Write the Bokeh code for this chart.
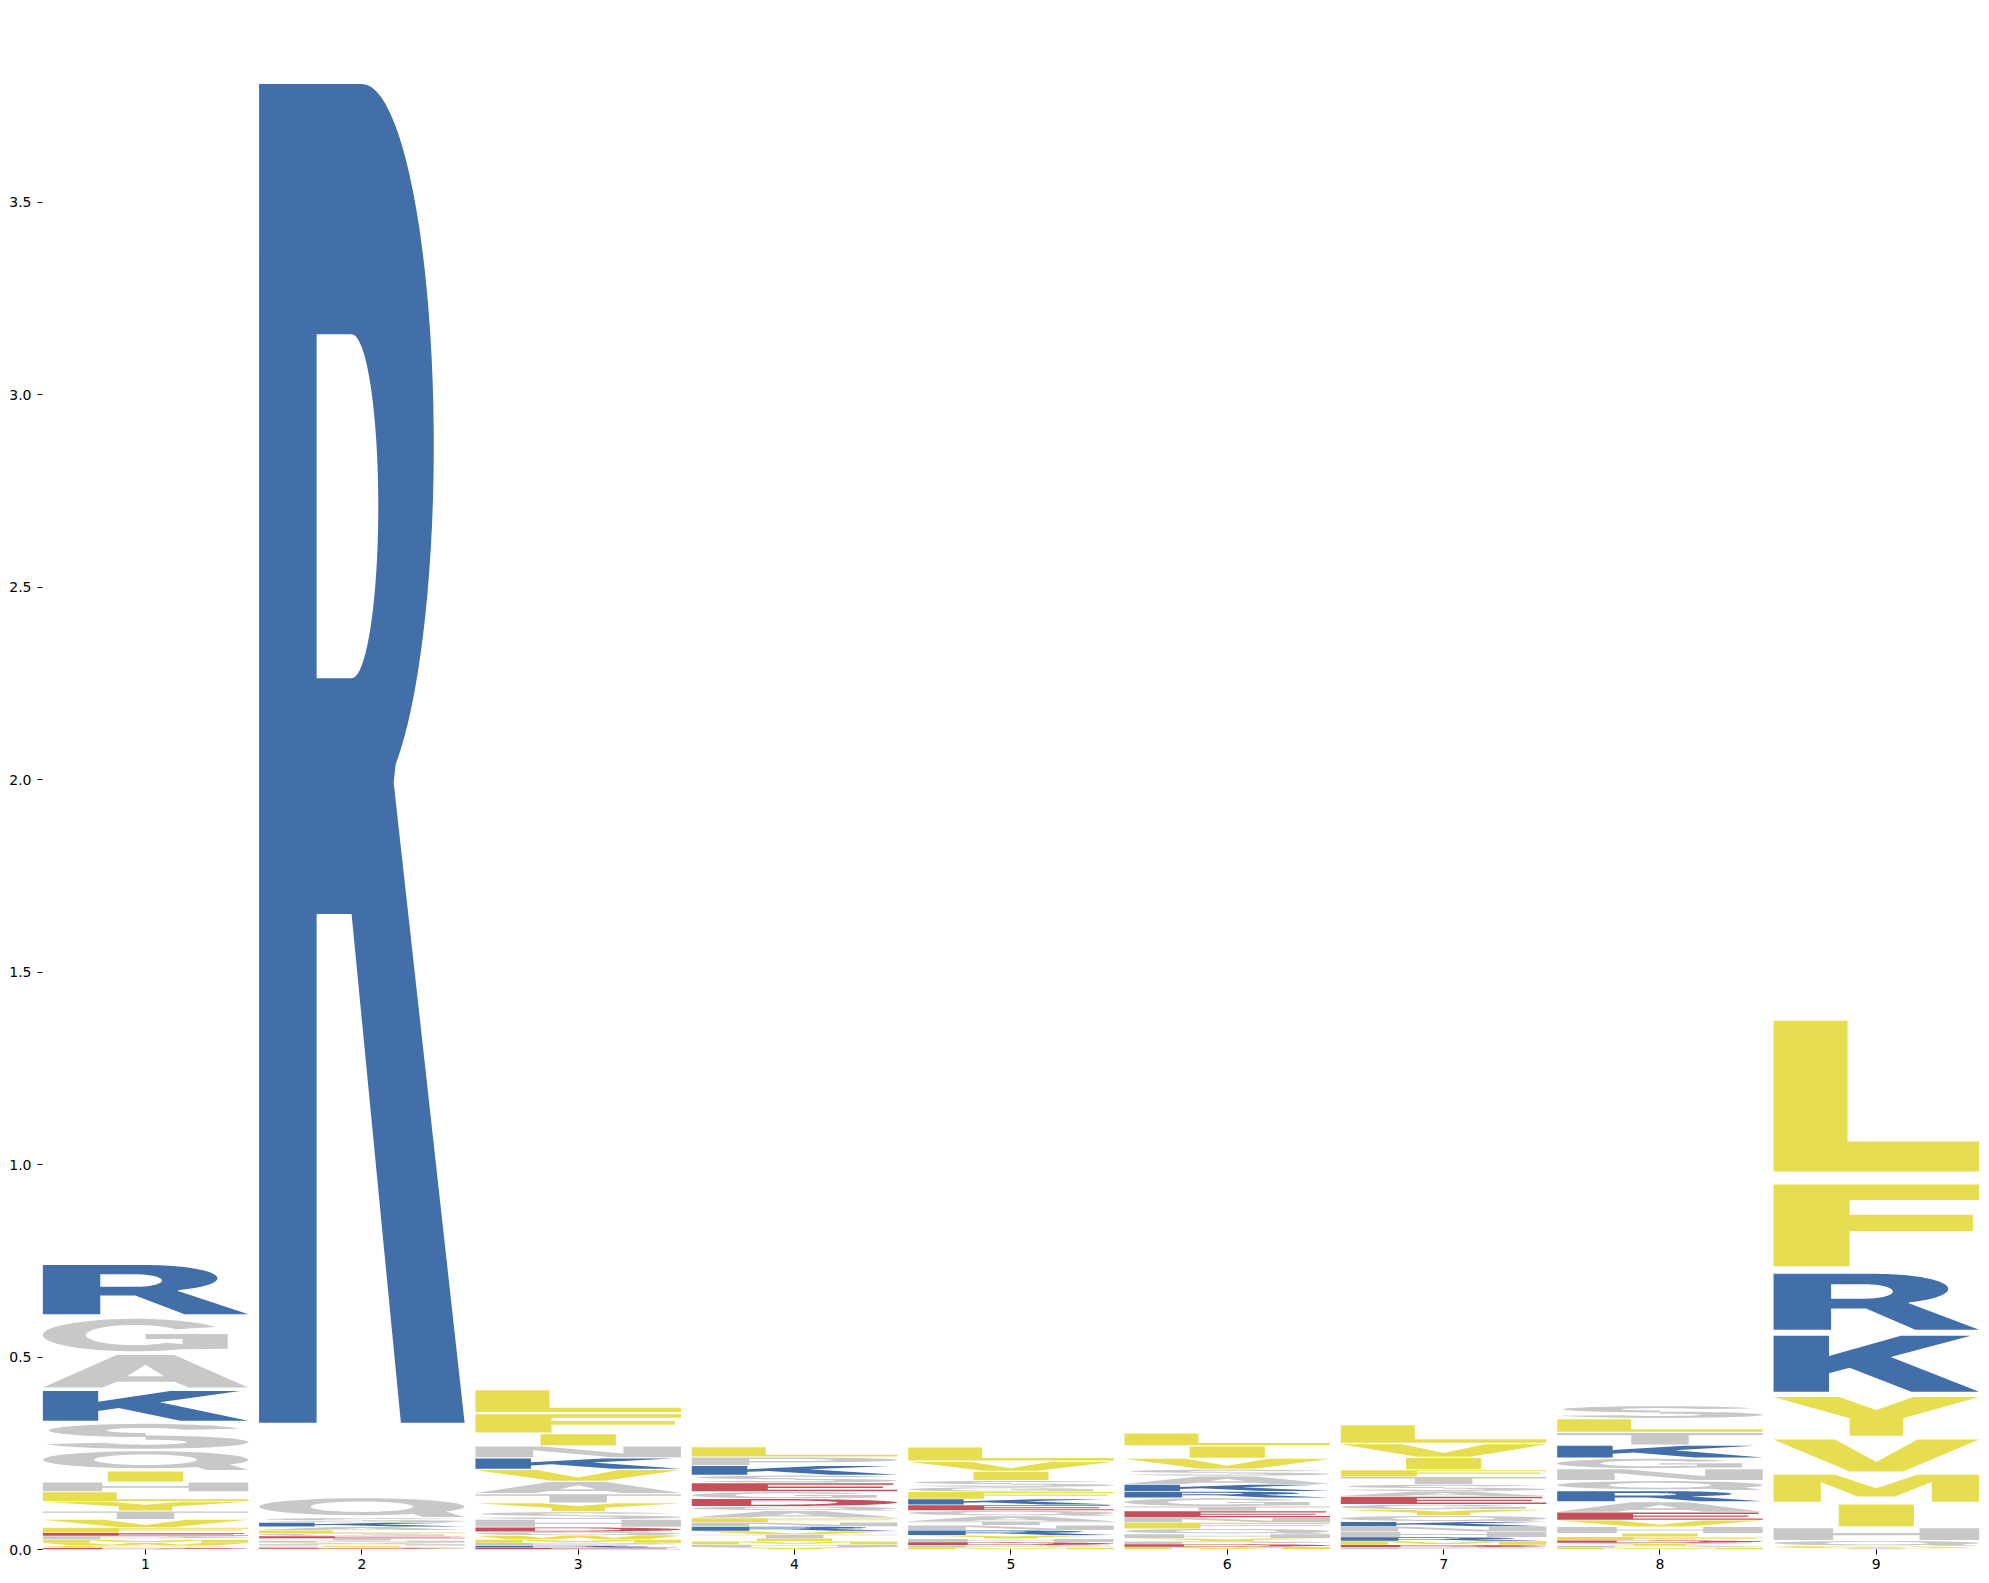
import math
from bokeh.plotting import figure
from bokeh.models import ColumnDataSource, Range1d, FixedTicker, PrintfTickFormatter
from bokeh.embed import file_html
from bokeh.resources import INLINE

# ---------------- data (bottom -> top in each position) ----------------
positions = [1, 2, 3, 4, 5, 6, 7, 8, 9]

letters_1 = ["D", "C", "W", "M", "P", "E", "F", "V", "T", "Y", "L", "H", "I", "Q", "S", "K", "A", "G", "R"]
heights_1 = [0.004, 0.006, 0.007, 0.009, 0.009, 0.008, 0.014, 0.021, 0.022, 0.025, 0.025, 0.025, 0.029, 0.054, 0.072, 0.086, 0.094, 0.094, 0.142]

letters_2 = ["F", "D", "P", "I", "H", "V", "N", "T", "E", "G", "L", "A", "K", "S", "Q", "R"]
heights_2 = [0.002, 0.002, 0.003, 0.003, 0.004, 0.004, 0.005, 0.006, 0.006, 0.007, 0.008, 0.009, 0.011, 0.012, 0.054, 3.864]

letters_3 = ["E", "R", "P", "M", "W", "Q", "D", "H", "S", "Y", "T", "A", "V", "K", "N", "I", "F", "L"]
heights_3 = [0.005, 0.005, 0.007, 0.009, 0.010, 0.010, 0.012, 0.020, 0.020, 0.023, 0.024, 0.032, 0.031, 0.030, 0.031, 0.032, 0.053, 0.063]

letters_4 = ["Y", "H", "M", "I", "T", "V", "R", "N", "F", "A", "Q", "D", "G", "E", "S", "K", "P", "L"]
heights_4 = [0.006, 0.007, 0.008, 0.008, 0.010, 0.009, 0.012, 0.011, 0.011, 0.019, 0.011, 0.020, 0.018, 0.023, 0.020, 0.025, 0.022, 0.027]

letters_5 = ["M", "P", "D", "H", "Y", "R", "N", "T", "A", "Q", "E", "K", "F", "G", "S", "I", "V", "L"]
heights_5 = [0.005, 0.006, 0.008, 0.009, 0.009, 0.013, 0.013, 0.010, 0.014, 0.014, 0.015, 0.015, 0.019, 0.012, 0.017, 0.024, 0.026, 0.038]

letters_6 = ["M", "D", "P", "Y", "H", "Q", "F", "N", "E", "T", "G", "R", "K", "A", "S", "V", "I", "L"]
heights_6 = [0.007, 0.007, 0.007, 0.008, 0.011, 0.014, 0.016, 0.013, 0.017, 0.012, 0.022, 0.017, 0.018, 0.022, 0.017, 0.029, 0.032, 0.034]

letters_7 = ["P", "D", "M", "R", "H", "N", "K", "Q", "Y", "G", "E", "A", "S", "T", "F", "I", "V", "L"]
heights_7 = [0.006, 0.006, 0.010, 0.010, 0.014, 0.014, 0.012, 0.016, 0.016, 0.013, 0.021, 0.013, 0.018, 0.020, 0.018, 0.032, 0.036, 0.050]

letters_8 = ["M", "P", "Y", "D", "F", "I", "H", "V", "E", "A", "R", "Q", "N", "G", "K", "T", "L", "S"]
heights_8 = [0.005, 0.005, 0.007, 0.007, 0.009, 0.009, 0.017, 0.017, 0.021, 0.027, 0.029, 0.026, 0.031, 0.027, 0.034, 0.033, 0.036, 0.034]

letters_9 = ["T", "W", "C", "Q", "H", "I", "M", "V", "Y", "K", "R", "F", "L"]
heights_9 = [0.003, 0.003, 0.003, 0.014, 0.034, 0.063, 0.078, 0.092, 0.112, 0.161, 0.161, 0.236, 0.435]

y_ticks = [0.0, 0.5, 1.0, 1.5, 2.0, 2.5, 3.0, 3.5]

# ---------------- colours ----------------
YELLOW = "#E6DE50"
GREY = "#C8C8C8"
BLUE = "#426EAA"
RED = "#C3505B"
color_of = {}
for ch in "ILVFMYWC":
    color_of[ch] = YELLOW
for ch in "AGSQTNPH":
    color_of[ch] = GREY
for ch in "KR":
    color_of[ch] = BLUE
for ch in "DE":
    color_of[ch] = RED


# ---------------- letter outlines in a unit box ----------------
def arc(cx, cy, rx, ry, a0, a1, n=40):
    pts = []
    for i in range(n + 1):
        a = math.radians(a0 + (a1 - a0) * i / n)
        pts.append((cx + rx * math.cos(a), cy + ry * math.sin(a)))
    return pts


def ring_seg(cx, cy, rxo, ryo, rxi, ryi, a0, a1):
    return arc(cx, cy, rxo, ryo, a0, a1) + arc(cx, cy, rxi, ryi, a1, a0)


T = {}
T["A"] = [[[(0, 0), (0.29, 0), (0.36, 0.18), (0.64, 0.18), (0.71, 0), (1, 0), (0.64, 1), (0.36, 1)],
           [(0.41, 0.35), (0.59, 0.35), (0.5, 0.70)]]]
T["E"] = [[[(0, 0), (1, 0), (1, 0.2), (0.37, 0.2), (0.37, 0.42), (0.93, 0.42), (0.93, 0.6),
            (0.37, 0.6), (0.37, 0.81), (0.98, 0.81), (0.98, 1), (0, 1)]]]
T["F"] = [[[(0, 0), (0.37, 0), (0.37, 0.43), (0.97, 0.43), (0.97, 0.63), (0.37, 0.63),
            (0.37, 0.81), (1, 0.81), (1, 1), (0, 1)]]]
T["L"] = [[[(0, 0), (1, 0), (1, 0.2), (0.36, 0.2), (0.36, 1), (0, 1)]]]
T["I"] = [[[(0, 0), (1, 0), (1, 1), (0, 1)]]]
T["T"] = [[[(0.36, 0), (0.64, 0), (0.64, 0.81), (1, 0.81), (1, 1), (0, 1), (0, 0.81), (0.36, 0.81)]]]
T["H"] = [[[(0, 0), (0.29, 0), (0.29, 0.41), (0.71, 0.41), (0.71, 0), (1, 0), (1, 1), (0.71, 1),
            (0.71, 0.6), (0.29, 0.6), (0.29, 1), (0, 1)]]]
T["K"] = [[[(0, 0), (0.27, 0), (0.27, 0.33), (0.37, 0.43), (0.67, 0), (1, 0), (0.57, 0.62),
            (0.96, 1), (0.62, 1), (0.27, 0.64), (0.27, 1), (0, 1)]]]
T["N"] = [[[(0, 0), (0.28, 0), (0.28, 0.65), (0.67, 0), (1, 0), (1, 1), (0.72, 1), (0.72, 0.35),
            (0.33, 1), (0, 1)]]]
T["V"] = [[[(0, 1), (0.3, 1), (0.5, 0.3), (0.7, 1), (1, 1), (0.63, 0), (0.37, 0)]]]
T["Y"] = [[[(0, 1), (0.32, 1), (0.5, 0.66), (0.68, 1), (1, 1), (0.63, 0.45), (0.63, 0),
            (0.37, 0), (0.37, 0.45)]]]
T["M"] = [[[(0, 0), (0.23, 0), (0.23, 0.73), (0.41, 0.2), (0.59, 0.2), (0.77, 0.73), (0.77, 0),
            (1, 0), (1, 1), (0.7, 1), (0.5, 0.5), (0.3, 1), (0, 1)]]]
T["W"] = [[[(0, 1), (0.22, 1), (0.33, 0.35), (0.42, 1), (0.58, 1), (0.67, 0.35), (0.78, 1),
            (1, 1), (0.84, 0), (0.6, 0), (0.5, 0.55), (0.4, 0), (0.16, 0)]]]
T["R"] = [[[(0, 0), (0.28, 0), (0.28, 0.38), (0.45, 0.38), (0.69, 0), (1, 0), (0.655, 0.478)]
           + arc(0.5, 0.73, 0.35, 0.27, -62, 90) + [(0, 1)],
           [(0.28, 0.556), (0.45, 0.556)] + arc(0.45, 0.6845, 0.13, 0.1285, -90, 90) + [(0.28, 0.813)]]]
T["P"] = [[[(0, 0), (0.28, 0), (0.28, 0.36), (0.5, 0.36)] + arc(0.5, 0.68, 0.5, 0.32, -90, 90) + [(0, 1)],
           [(0.28, 0.53), (0.47, 0.53)] + arc(0.47, 0.67, 0.22, 0.14, -90, 90) + [(0.28, 0.81)]]]
T["D"] = [[[(0, 0), (0.42, 0)] + arc(0.42, 0.5, 0.58, 0.5, -90, 90) + [(0, 1)],
           [(0.29, 0.19), (0.4, 0.19)] + arc(0.4, 0.5, 0.31, 0.31, -90, 90) + [(0.29, 0.81)]]]
T["C"] = [[arc(0.5, 0.5, 0.5, 0.5, 35, 325) + arc(0.5, 0.5, 0.26, 0.31, -35, -325)]]
T["G"] = [[arc(0.45, 0.5, 0.45, 0.5, 30, 300)
           + [(0.9, 0.08), (0.9, 0.53), (0.5, 0.53), (0.5, 0.38), (0.68, 0.38), (0.68, 0.22)]
           + arc(0.45, 0.5, 0.24, 0.31, -50, -325)]]
T["S"] = [[ring_seg(0.5, 0.735, 0.47, 0.265, 0.19, 0.10, 15, 270)],
          [ring_seg(0.5, 0.265, 0.5, 0.265, 0.2, 0.10, 90, -165)]]
T["Q"] = [[arc(0.5, 0.545, 0.5, 0.455, -35, 300) + [(0.8, 0.0), (1.0, 0.0)],
           arc(0.5, 0.545, 0.25, 0.28, 0, 360)]]

WIDTH_FACTOR = {"I": 0.366}

# ---------------- build glyph table ----------------
columns = [
    (positions[0], letters_1, heights_1),
    (positions[1], letters_2, heights_2),
    (positions[2], letters_3, heights_3),
    (positions[3], letters_4, heights_4),
    (positions[4], letters_5, heights_5),
    (positions[5], letters_6, heights_6),
    (positions[6], letters_7, heights_7),
    (positions[7], letters_8, heights_8),
    (positions[8], letters_9, heights_9),
]

BOX_W = 0.95
VPAD = 0.1

xs, ys, cols = [], [], []
for pos, lets, hts in columns:
    base = 0.0
    for ch, h in zip(lets, hts):
        wf = WIDTH_FACTOR.get(ch, 1.0)
        gw = BOX_W * wf
        x0 = pos - gw / 2.0
        y0 = base + h * VPAD / 2.0
        gh = h * (1 - VPAD)
        gx_polys, gy_polys = [], []
        for poly in T[ch]:
            rx_, ry_ = [], []
            for ring in poly:
                rx_.append([x0 + gw * u for u, v in ring])
                ry_.append([y0 + gh * v for u, v in ring])
            gx_polys.append(rx_)
            gy_polys.append(ry_)
        xs.append(gx_polys)
        ys.append(gy_polys)
        cols.append(color_of[ch])
        base += h

source = ColumnDataSource(dict(xs=xs, ys=ys, color=cols))

# ---------------- figure ----------------
p = figure(width=1989, height=1583, output_backend="svg", toolbar_location=None,
           x_range=Range1d(0.524, 9.5), y_range=Range1d(0.0, 4.0),
           min_border_left=42, min_border_right=5, min_border_top=9, min_border_bottom=34)
p.outline_line_color = None
p.background_fill_color = "white"
p.border_fill_color = "white"
p.grid.visible = False

p.multi_polygons(xs="xs", ys="ys", fill_color="color", line_color=None, source=source)

p.xaxis.ticker = FixedTicker(ticks=positions)
p.yaxis.ticker = FixedTicker(ticks=y_ticks)
p.yaxis.formatter = PrintfTickFormatter(format="%.1f")
for ax in (p.xaxis[0], p.yaxis[0]):
    ax.axis_line_color = None
    ax.major_tick_line_color = "black"
    ax.major_tick_line_width = 1
    ax.major_tick_out = 5
    ax.major_tick_in = 0
    ax.minor_tick_line_color = None
    ax.major_label_text_font = "DejaVu Sans"
    ax.major_label_text_font_size = "14px"
    ax.major_label_text_color = "black"
p.yaxis.major_label_standoff = 6
p.xaxis.major_label_standoff = 4

open("out.html", "w").write(file_html(p, INLINE))
